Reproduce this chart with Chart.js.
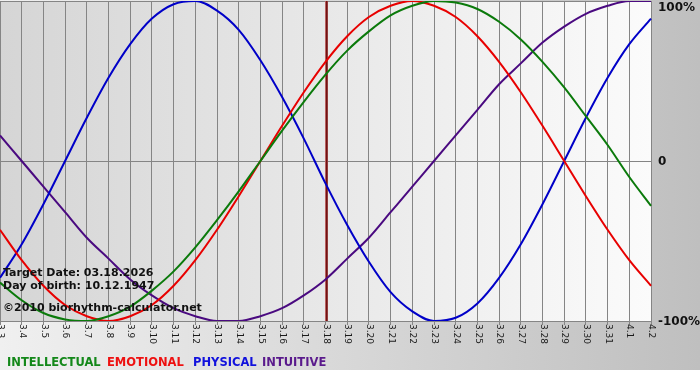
<!DOCTYPE html>
<html>
<head>
<meta charset="utf-8">
<title>Biorhythm</title>
<script src="https://cdn.jsdelivr.net/npm/chart.js@4.4.1/dist/chart.umd.min.js"></script>
<style>
    html, body { margin: 0; padding: 0; background: #fff; }
    canvas { display: block; }
</style>
</head>
<body>
<canvas id="bioChart" width="700" height="380"></canvas>
<script>
// days shown on the x axis (month.day)
const days = ["3.3", "3.4", "3.5", "3.6", "3.7", "3.8", "3.9", "3.10", "3.11", "3.12",
    "3.13", "3.14", "3.15", "3.16", "3.17", "3.18", "3.19", "3.20", "3.21", "3.22",
    "3.23", "3.24", "3.25", "3.26", "3.27", "3.28", "3.29", "3.30", "3.31", "4.1", "4.2"];

// cycle values, -1 .. 1
const intellectual = [-0.76, -0.87, -0.95, -0.99, -1.00, -0.97, -0.91, -0.81, -0.69, -0.54,
    -0.37, -0.19, 0.00, 0.19, 0.37, 0.54, 0.69, 0.81, 0.91, 0.97,
    1.00, 0.99, 0.95, 0.87, 0.76, 0.62, 0.46, 0.28, 0.10, -0.10, -0.28];
const emotional = [-0.43, -0.62, -0.78, -0.90, -0.97, -1.00, -0.97, -0.90, -0.78, -0.62,
    -0.43, -0.22, 0.00, 0.22, 0.43, 0.62, 0.78, 0.90, 0.97, 1.00,
    0.97, 0.90, 0.78, 0.62, 0.43, 0.22, 0.00, -0.22, -0.43, -0.62, -0.78];
const physical = [-0.73, -0.52, -0.27, 0.00, 0.27, 0.52, 0.73, 0.89, 0.98, 1.00,
    0.94, 0.82, 0.63, 0.40, 0.14, -0.14, -0.40, -0.63, -0.82, -0.94,
    -1.00, -0.98, -0.89, -0.73, -0.52, -0.27, 0.00, 0.27, 0.52, 0.73, 0.89];
const intuitive = [0.16, 0.00, -0.16, -0.32, -0.48, -0.61, -0.74, -0.84, -0.92, -0.97,
    -1.00, -1.00, -0.97, -0.92, -0.84, -0.74, -0.61, -0.48, -0.32, -0.16,
    0.00, 0.16, 0.32, 0.48, 0.61, 0.74, 0.84, 0.92, 0.97, 1.00, 1.00];

const yTicks = [-1, 0, 1];
const yTickLabels = ["-100%", "0", "100%"];
const targetDay = "3.18";
const infoLines = ["Target Date: 03.18.2026", "Day of birth: 10.12.1947", "\u00a92010 biorhythm-calculator.net"];

const series = [
    { name: "INTELLECTUAL", data: intellectual, color: "#0b7a0b", legend: "#14881a", lx: 7 },
    { name: "EMOTIONAL", data: emotional, color: "#e80000", legend: "#ee1111", lx: 107 },
    { name: "PHYSICAL", data: physical, color: "#0000c8", legend: "#1111dd", lx: 193 },
    { name: "INTUITIVE", data: intuitive, color: "#4a0a80", legend: "#5a1a8c", lx: 262 }
];

const FONT = "'DejaVu Sans', Verdana, sans-serif";

/** backgrounds, target line, texts */
const decorPlugin = {
    id: "decor",
    beforeDraw(chart) {
        const ctx = chart.ctx;
        const a = chart.chartArea;
        ctx.save();
        ctx.fillStyle = "#fff";
        ctx.fillRect(0, 0, chart.width, chart.height);

        let g = ctx.createLinearGradient(0, 0, chart.width, 0);
        g.addColorStop(0, "#f0f0f0");
        g.addColorStop(1, "#bfbfbf");
        ctx.fillStyle = g;
        ctx.fillRect(0, 0, chart.width, 370);

        g = ctx.createLinearGradient(a.left, 0, a.right, 0);
        g.addColorStop(0, "#d5d5d5");
        g.addColorStop(1, "#fbfbfb");
        ctx.fillStyle = g;
        ctx.fillRect(a.left, a.top, a.right - a.left, a.bottom - a.top);
        ctx.restore();
    },
    beforeDatasetsDraw(chart) {
        const ctx = chart.ctx;
        const a = chart.chartArea;
        const x = Math.round(chart.scales.x.getPixelForValue(days.indexOf(targetDay)));
        ctx.save();
        ctx.fillStyle = "#b86060";
        ctx.fillRect(x - 1, a.top, 3, a.bottom - a.top);
        ctx.fillStyle = "#701212";
        ctx.fillRect(x, a.top, 1.5, a.bottom - a.top);
        ctx.restore();
    },
    afterDraw(chart) {
        const ctx = chart.ctx;
        const a = chart.chartArea;
        const xs = chart.scales.x;
        const ys = chart.scales.y;
        ctx.save();

        // rotated day labels
        ctx.fillStyle = "#1a1a1a";
        ctx.font = "9px " + FONT;
        ctx.textAlign = "left";
        ctx.textBaseline = "middle";
        days.forEach((d, i) => {
            ctx.save();
            ctx.translate(xs.getPixelForValue(i) + 0.5, a.bottom + 3);
            ctx.rotate(Math.PI / 2);
            ctx.fillText(d, 0, 0);
            ctx.restore();
        });

        // percent labels on the right
        ctx.fillStyle = "#111";
        ctx.font = "bold 12px " + FONT;
        yTicks.forEach((v, i) => {
            let y = ys.getPixelForValue(v) + 1;
            y = Math.max(y, 8);
            ctx.fillText(yTickLabels[i], a.right + 7, y);
        });

        // info text
        ctx.font = "bold 11px " + FONT;
        ctx.textBaseline = "alphabetic";
        ctx.fillText(infoLines[0], 3, 276);
        ctx.fillText(infoLines[1], 3, 289);
        ctx.fillText(infoLines[2], 3, 311);

        // legend
        ctx.font = "bold 11.5px " + FONT;
        series.forEach(s => {
            ctx.fillStyle = s.legend;
            ctx.fillText(s.name, s.lx, 366);
        });
        ctx.restore();
    }
};

new Chart(document.getElementById("bioChart").getContext("2d"), {
    type: "line",
    data: {
        labels: days,
        datasets: series.map(s => ({
            label: s.name,
            data: s.data,
            borderColor: s.color,
            borderWidth: 2,
            pointRadius: 0,
            cubicInterpolationMode: "monotone",
            fill: false
        }))
    },
    options: {
        responsive: false,
        animation: false,
        layout: { padding: { top: 1, left: 0, right: 0, bottom: 0 } },
        plugins: {
            legend: { display: false },
            tooltip: { enabled: false }
        },
        scales: {
            x: {
                offset: false,
                afterFit: scale => { scale.height = 59; },
                grid: { color: "#858585", lineWidth: 1, tickLength: 4, drawTicks: true },
                border: { color: "#858585" },
                ticks: { display: false }
            },
            y: {
                position: "right",
                min: -1,
                max: 1,
                afterBuildTicks: scale => { scale.ticks = yTicks.map(v => ({ value: v })); },
                afterFit: scale => { scale.width = 49; },
                grid: { color: "#858585", lineWidth: 1, drawTicks: false },
                border: { color: "#858585" },
                ticks: { display: false }
            }
        }
    },
    plugins: [decorPlugin]
});
</script>
</body>
</html>
